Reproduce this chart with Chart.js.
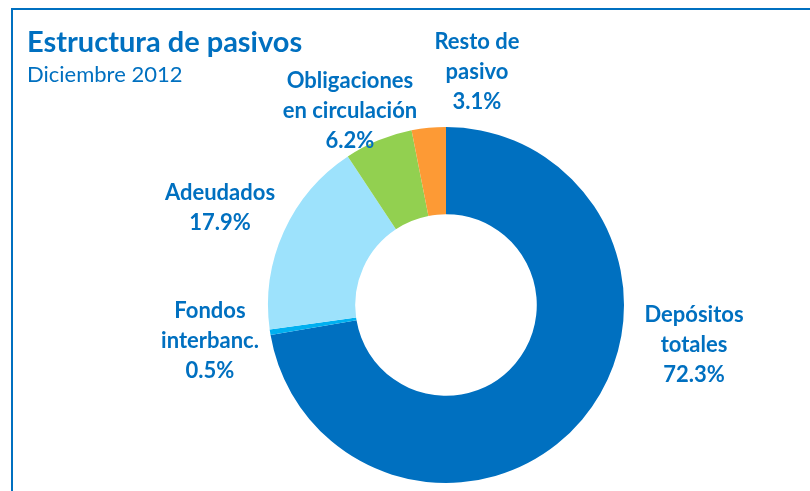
<!DOCTYPE html>
<html>
<head>
<meta charset="utf-8">
<script src="https://cdn.jsdelivr.net/npm/chart.js@4"></script>
<style>
  html, body { margin: 0; padding: 0; background: #fff; }
  #wrap { position: relative; width: 810px; height: 491px; overflow: hidden; }
  #frame { position: absolute; left: 11px; top: 8px; width: 900px; height: 600px;
           border-left: 2px solid #0070c0; border-top: 2px solid #0070c0; }
</style>
</head>
<body>
<div id="wrap">
  <div id="frame"></div>
  <canvas id="myChart" width="810" height="491"></canvas>
</div>
<script>
const labels = [['Depósitos', 'totales'], ['Fondos', 'interbanc.'], ['Adeudados'], ['Obligaciones', 'en circulación'], ['Resto de', 'pasivo']];
const values = [72.3, 0.5, 17.9, 6.2, 3.1];
const colors = ['#0070c0', '#00b0f0', '#9de2fc', '#92d050', '#fd9a35'];
// where each label sits, relative to the centre of the doughnut
const labelOffsets = [[248, 40], [-236, 36], [-226, -97], [-96, -194], [31, -233]];

const blue = '#0070c0';
const fontFam = "Lato, 'Open Sans', sans-serif";

const textPlugin = {
  id: 'texts',
  afterDraw(chart) {
    const c = chart.ctx;
    c.save();
    c.fillStyle = blue;
    c.textBaseline = 'middle';
    c.textAlign = 'left';
    c.font = 'bold 29px ' + fontFam;
    c.fillText('Estructura de pasivos', 27, 43);
    c.font = '22px ' + fontFam;
    c.fillText('Diciembre 2012', 27, 75);

    const arc = chart.getDatasetMeta(0).data[0];
    const cx = arc.x, cy = arc.y;
    c.textAlign = 'center';
    c.font = 'bold 22px ' + fontFam;
    const lh = 30;
    labels.forEach((lines, i) => {
      const all = lines.concat([values[i].toFixed(1) + '%']);
      const x = cx + labelOffsets[i][0];
      const y0 = cy + labelOffsets[i][1] - (all.length - 1) * lh / 2;
      all.forEach((t, j) => c.fillText(t, x, y0 + j * lh));
    });
    c.restore();
  }
};

const ctx = document.getElementById('myChart');
const myChart = new Chart(ctx, {
  type: 'doughnut',
  data: {
    labels: labels.map(l => l.join(' ')),
    datasets: [{
      data: values,
      backgroundColor: colors,
      borderWidth: 0
    }]
  },
  options: {
    responsive: false,
    animation: false,
    cutout: '51%',
    layout: { padding: { top: 127, bottom: 8, left: 82, right: 0 } },
    plugins: {
      legend: { display: false },
      tooltip: { enabled: false }
    }
  },
  plugins: [textPlugin]
});
</script>
</body>
</html>
